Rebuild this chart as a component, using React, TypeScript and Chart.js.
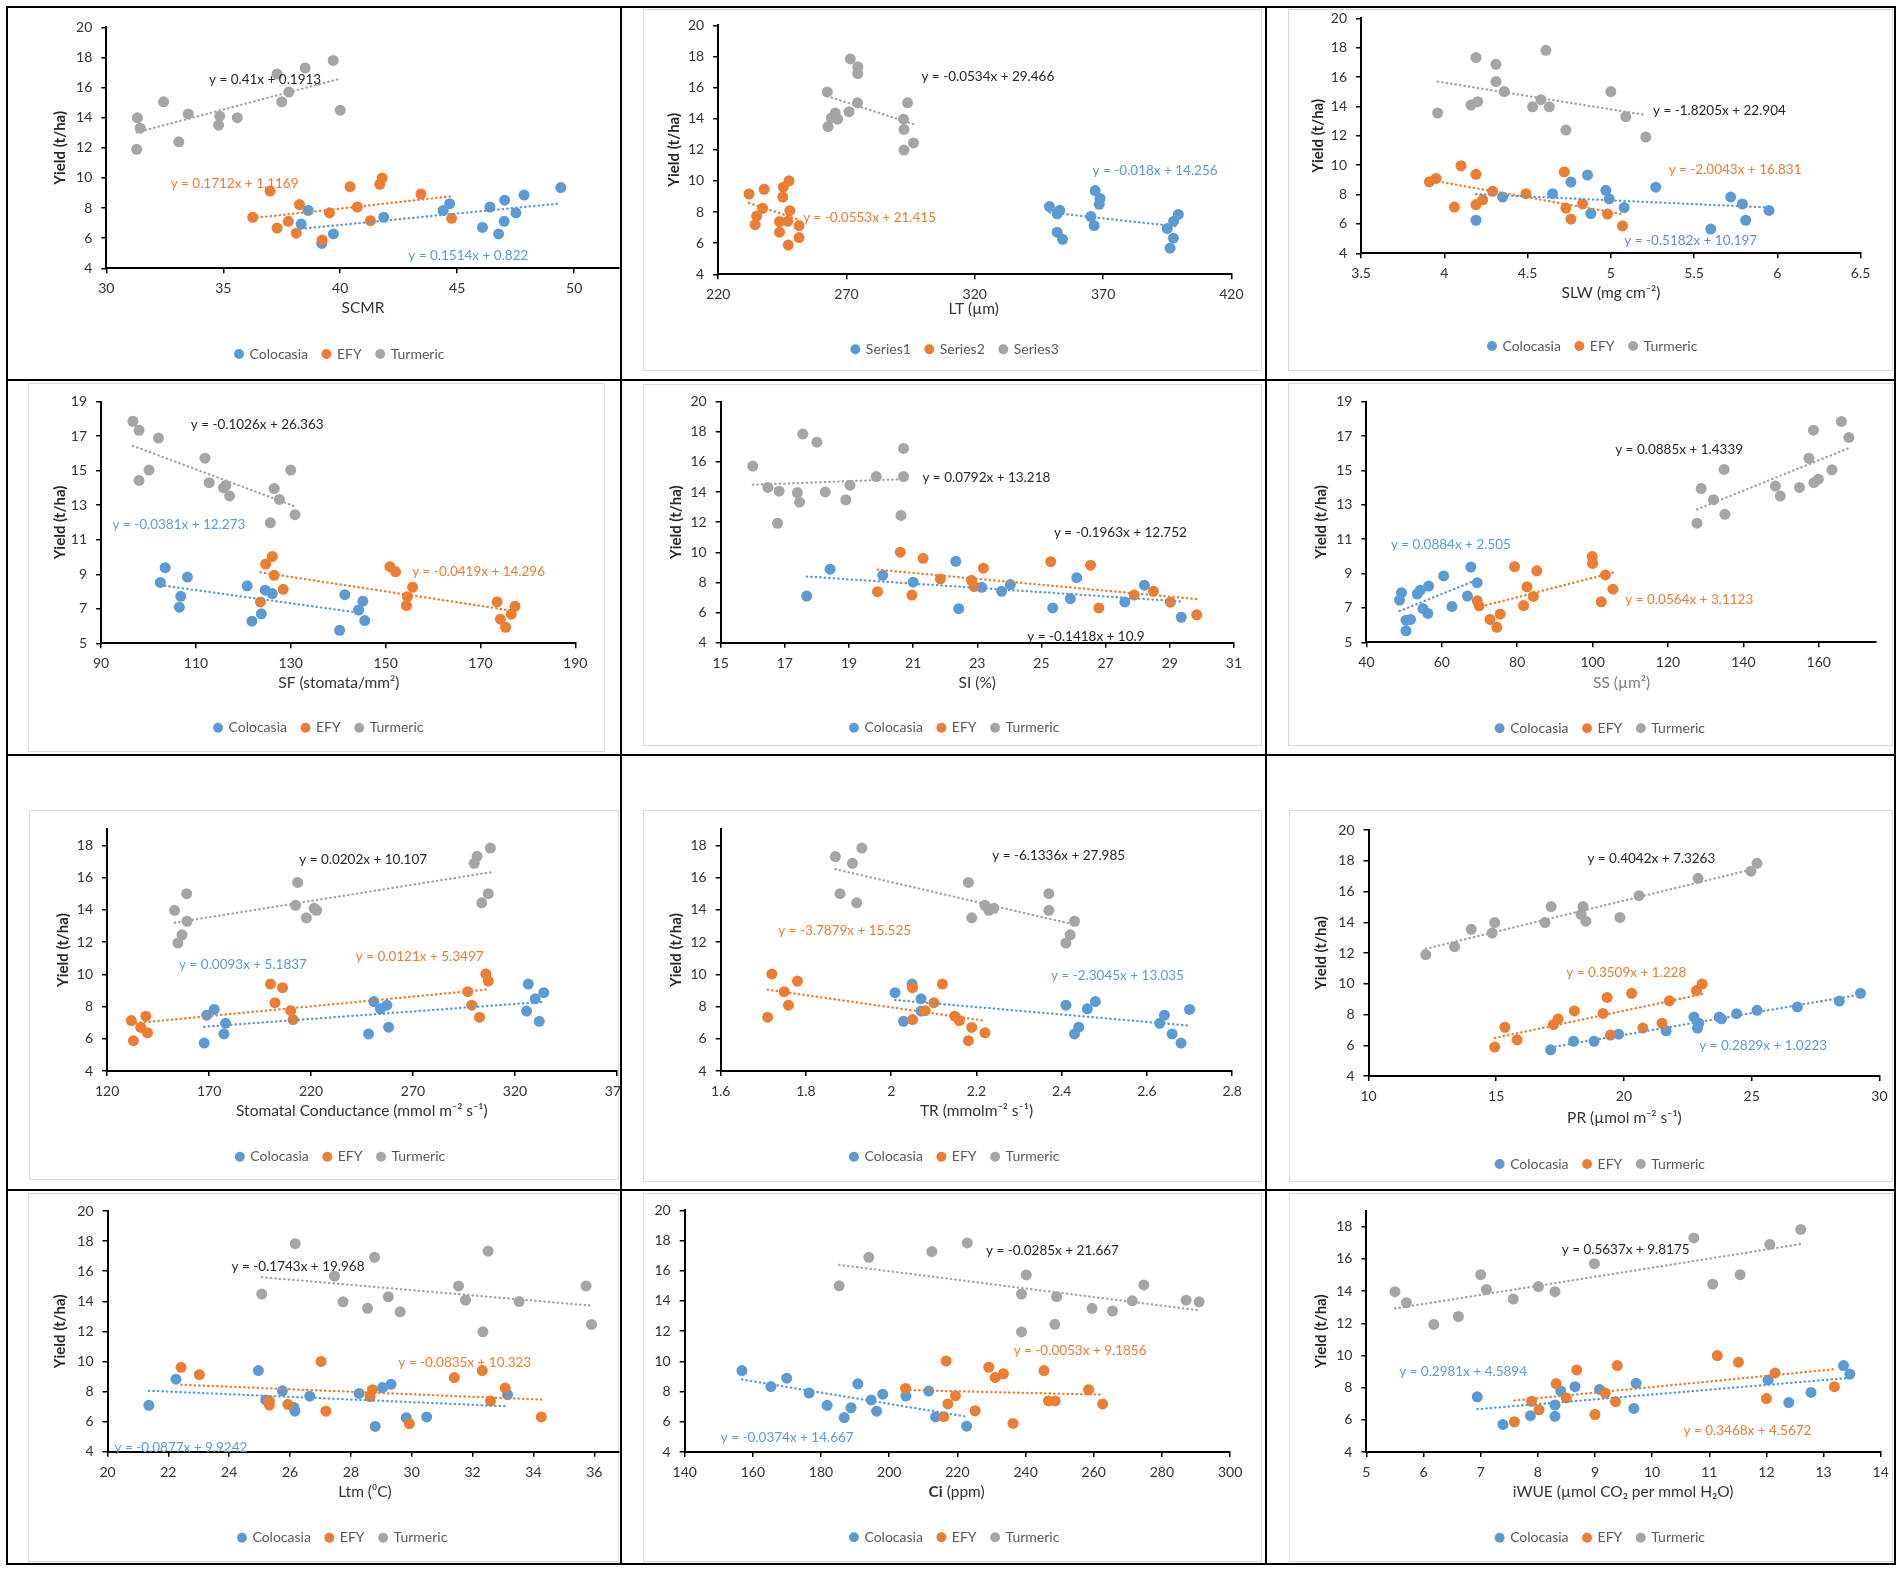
import React, { useEffect, useRef } from "react";
import { Chart, registerables } from "chart.js";
Chart.register(...registerables);

type Pt = [number, number];
const FONT = "Lato, 'DejaVu Sans', sans-serif";
const BLUE = "#5B9BD5", ORANGE = "#ED7D31", GRAY = "#A5A5A5";
const DARK = "#262626";
const COLORS = [BLUE, ORANGE, GRAY];

// ---------- names ----------
const cropNames = ["Colocasia", "EFY", "Turmeric"];
const ltNames = ["Series1", "Series2", "Series3"];

// ---------- data: [x, yield] ----------
const scmrColocasia: Pt[] = [[38.33,6.94],[38.63,7.84],[39.21,5.65],[39.71,6.28],[41.86,7.39],[44.4,7.84],[44.68,8.29],[46.08,6.71],[46.4,8.07],[46.77,6.28],[47.01,7.12],[47.03,8.52],[47.51,7.68],[47.86,8.86],[49.43,9.36]];
const scmrEfy: Pt[] = [[36.26,7.39],[37.0,9.13],[37.3,6.67],[37.78,7.12],[38.12,6.33],[38.26,8.23],[39.23,5.88],[39.54,7.68],[40.42,9.42],[40.73,8.07],[41.29,7.16],[41.69,9.58],[41.79,9.99],[43.45,8.93],[44.76,7.32]];
const scmrTurmeric: Pt[] = [[31.33,13.99],[31.45,13.3],[31.3,11.9],[32.45,15.05],[33.5,14.25],[33.1,12.4],[34.85,14.1],[34.8,13.5],[35.6,14.0],[37.3,16.9],[37.5,15.05],[37.8,15.7],[38.5,17.3],[39.7,17.8],[40.0,14.5]];

const ltColocasia: Pt[] = [[349.1,8.35],[353.1,8.11],[352.1,7.89],[352.1,6.71],[354.2,6.25],[366.9,9.38],[368.8,8.87],[368.5,8.5],[365.2,7.72],[366.5,7.13],[395.0,6.95],[397.5,7.41],[399.3,7.85],[397.4,6.32],[396.1,5.68]];
const ltEfy: Pt[] = [[232.0,9.16],[237.9,9.46],[245.4,9.6],[247.6,10.01],[245.2,8.96],[237.3,8.24],[235.0,7.74],[234.4,7.19],[243.9,7.39],[247.1,7.41],[247.9,8.09],[251.5,7.13],[243.9,6.71],[251.5,6.36],[247.3,5.88]];
const ltTurmeric: Pt[] = [[271.5,17.84],[274.4,17.33],[274.4,16.9],[262.5,15.72],[274.3,15.02],[271.0,14.45],[265.6,14.36],[264.1,14.05],[266.5,13.97],[262.8,13.49],[292.2,13.97],[292.4,13.31],[293.8,15.02],[292.4,11.98],[296.1,12.44]];

const slwColocasia: Pt[] = [[4.19,6.25],[4.35,7.83],[4.65,8.06],[4.76,8.85],[4.86,9.33],[4.88,6.71],[4.97,8.29],[4.99,7.71],[5.08,7.11],[5.27,8.5],[5.6,5.65],[5.72,7.83],[5.79,7.36],[5.81,6.25],[5.95,6.92]];
const slwEfy: Pt[] = [[3.91,8.87],[3.95,9.1],[4.1,9.96],[4.19,9.38],[4.06,7.15],[4.19,7.32],[4.23,7.64],[4.29,8.22],[4.49,8.06],[4.72,9.54],[4.73,7.08],[4.76,6.32],[4.83,7.36],[4.98,6.67],[5.07,5.86]];
const slwTurmeric: Pt[] = [[3.96,13.55],[4.19,17.33],[4.31,16.87],[4.31,15.69],[4.36,15.01],[4.16,14.09],[4.2,14.32],[4.61,17.82],[4.58,14.46],[4.53,13.97],[4.63,13.97],[4.73,12.39],[5.0,15.01],[5.09,13.3],[5.21,11.91]];

const sfColocasia: Pt[] = [[102.5,8.53],[103.5,9.38],[108.2,8.84],[106.8,7.72],[106.5,7.09],[120.8,8.33],[124.6,8.08],[126.1,7.88],[123.8,6.71],[121.8,6.28],[141.4,7.82],[145.2,7.44],[144.3,6.93],[145.6,6.32],[140.3,5.75]];
const sfEfy: Pt[] = [[126.1,10.03],[124.7,9.59],[126.5,8.94],[128.4,8.13],[123.6,7.4],[150.9,9.44],[152.1,9.14],[155.7,8.25],[154.6,7.7],[154.4,7.19],[173.5,7.4],[174.2,6.4],[175.3,5.93],[176.5,6.69],[177.3,7.15]];
const sfTurmeric: Pt[] = [[96.7,17.86],[98.0,17.34],[102.1,16.89],[98.0,14.44],[100.1,15.04],[111.9,15.73],[112.8,14.31],[115.8,14.01],[116.3,14.15],[117.1,13.54],[126.5,13.97],[127.6,13.34],[130.0,15.04],[130.9,12.45],[125.7,11.98]];

const siColocasia: Pt[] = [[17.68,7.1],[18.41,8.88],[20.05,8.47],[21.0,8.02],[22.33,9.4],[22.42,6.26],[23.14,7.68],[23.76,7.41],[24.03,7.86],[25.35,6.31],[25.9,6.92],[26.1,8.32],[27.6,6.71],[28.21,7.82],[29.36,5.69]];
const siEfy: Pt[] = [[20.6,10.01],[21.31,9.6],[19.89,7.39],[20.96,7.16],[21.85,8.23],[22.82,8.14],[22.9,7.73],[23.19,8.95],[25.29,9.38],[26.53,9.15],[26.79,6.31],[27.89,7.16],[28.49,7.41],[29.02,6.69],[29.84,5.85]];
const siTurmeric: Pt[] = [[16.0,15.73],[16.47,14.31],[16.82,14.06],[16.77,11.93],[17.56,17.85],[17.39,13.97],[17.46,13.33],[18.0,17.31],[18.26,14.01],[18.9,13.49],[19.03,14.46],[19.85,15.03],[20.7,16.9],[20.7,15.03],[20.62,12.45]];

const ssColocasia: Pt[] = [[49.3,7.89],[48.8,7.46],[53.5,7.81],[54.3,8.03],[56.5,8.27],[60.5,8.86],[67.7,9.38],[69.4,8.47],[66.8,7.69],[55.0,6.96],[56.3,6.68],[62.7,7.08],[50.5,6.29],[51.7,6.33],[50.5,5.67]];
const ssEfy: Pt[] = [[99.9,9.99],[100.0,9.59],[103.4,8.92],[105.4,8.09],[102.3,7.36],[79.3,9.4],[85.2,9.16],[82.6,8.23],[84.3,7.67],[81.7,7.14],[69.4,7.42],[69.9,7.12],[72.8,6.33],[75.5,6.64],[74.6,5.87]];
const ssTurmeric: Pt[] = [[127.7,11.93],[128.8,13.95],[132.1,13.3],[134.9,15.06],[135.1,12.45],[148.5,14.09],[149.8,13.51],[154.9,14.01],[157.4,15.71],[158.6,17.34],[158.7,14.29],[159.9,14.49],[163.5,15.04],[166.0,17.85],[168.0,16.92]];

const gsColocasia: Pt[] = [[168.8,7.46],[172.5,7.82],[178.1,6.96],[177.3,6.3],[167.6,5.73],[250.8,8.31],[254.0,7.86],[257.2,8.08],[258.0,6.72],[248.2,6.3],[326.5,9.39],[329.9,8.48],[334.1,8.86],[325.7,7.72],[331.9,7.08]];
const gsEfy: Pt[] = [[131.9,7.13],[132.9,5.88],[136.5,6.7],[139.0,7.4],[139.8,6.37],[200.1,9.39],[206.0,9.17],[202.3,8.24],[210.0,7.74],[211.2,7.19],[296.8,8.92],[298.8,8.08],[302.6,7.34],[305.7,10.02],[306.9,9.58]];
const gsTurmeric: Pt[] = [[153.1,13.97],[159.0,15.0],[159.2,13.29],[156.7,12.45],[154.7,11.94],[213.4,15.7],[212.4,14.28],[217.7,13.5],[221.5,14.09],[222.7,13.97],[300.0,16.88],[301.4,17.32],[307.9,17.83],[306.9,15.0],[303.7,14.43]];

const trColocasia: Pt[] = [[2.009,8.86],[2.049,9.39],[2.07,8.48],[2.07,7.72],[2.029,7.08],[2.41,8.08],[2.479,8.31],[2.46,7.86],[2.44,6.72],[2.43,6.3],[2.7,7.82],[2.641,7.46],[2.63,6.96],[2.659,6.3],[2.68,5.73]];
const trEfy: Pt[] = [[1.72,10.02],[1.78,9.58],[1.749,8.92],[1.759,8.08],[1.71,7.34],[2.05,9.17],[2.05,7.19],[2.1,8.24],[2.08,7.74],[2.12,9.39],[2.149,7.4],[2.16,7.13],[2.189,6.7],[2.22,6.37],[2.181,5.88]];
const trTurmeric: Pt[] = [[1.869,17.3],[1.909,16.88],[1.931,17.83],[1.88,15.0],[1.919,14.43],[2.181,15.7],[2.189,13.5],[2.22,14.28],[2.229,13.97],[2.241,14.09],[2.37,15.0],[2.37,13.97],[2.43,13.29],[2.42,12.45],[2.41,11.94]];

const prColocasia: Pt[] = [[17.13,5.7],[18.03,6.26],[18.83,6.26],[19.79,6.72],[21.65,6.94],[22.74,7.83],[22.88,7.12],[22.93,7.43],[23.73,7.83],[23.82,7.72],[24.41,8.05],[25.21,8.27],[26.79,8.49],[28.43,8.87],[29.26,9.38]];
const prEfy: Pt[] = [[14.94,5.88],[15.34,7.17],[15.82,6.35],[17.24,7.34],[17.42,7.7],[18.06,8.23],[19.18,8.07],[19.34,9.11],[19.47,6.66],[20.3,9.38],[20.74,7.12],[21.49,7.43],[21.78,8.89],[22.84,9.56],[23.06,9.98]];
const prTurmeric: Pt[] = [[12.24,11.9],[13.37,12.41],[14.02,13.54],[14.84,13.3],[14.94,13.98],[16.91,13.98],[17.15,15.02],[18.32,14.51],[18.4,15.02],[18.51,14.07],[19.84,14.31],[20.59,15.73],[22.9,16.86],[24.97,17.32],[25.21,17.83]];

const ltmColocasia: Pt[] = [[21.36,7.08],[22.25,8.82],[24.96,9.39],[25.2,7.44],[25.75,8.05],[26.13,6.94],[26.16,6.69],[26.65,7.69],[28.27,7.87],[28.8,5.68],[29.04,8.26],[29.32,8.48],[29.82,6.26],[30.49,6.31],[33.15,7.8]];
const ltmEfy: Pt[] = [[22.42,9.61],[23.02,9.12],[25.32,7.37],[25.32,7.1],[25.93,7.15],[27.02,10.0],[27.18,6.69],[28.63,7.67],[28.71,8.12],[29.92,5.86],[31.4,8.93],[32.32,9.39],[32.59,7.37],[33.07,8.23],[34.26,6.31]];
const ltmTurmeric: Pt[] = [[26.17,17.83],[25.07,14.48],[27.46,15.68],[27.74,13.96],[28.78,16.92],[28.55,13.53],[29.23,14.3],[29.62,13.3],[31.54,15.02],[31.77,14.07],[32.34,11.97],[32.51,17.33],[33.53,13.98],[35.73,15.02],[35.91,12.46]];

const ciColocasia: Pt[] = [[156.8,9.39],[165.3,8.33],[169.9,8.89],[176.5,7.9],[181.8,7.09],[186.8,6.28],[188.8,6.93],[190.8,8.51],[194.7,7.45],[196.3,6.7],[198.1,7.83],[204.9,7.7],[211.6,8.03],[213.6,6.32],[222.7,5.71]];
const ciEfy: Pt[] = [[204.8,8.21],[216.7,10.02],[216.0,6.34],[217.2,7.18],[219.4,7.72],[225.2,6.73],[229.2,9.61],[231.1,8.94],[233.5,9.18],[236.3,5.89],[245.4,9.39],[246.7,7.38],[248.7,7.38],[258.5,8.12],[262.6,7.18]];
const ciTurmeric: Pt[] = [[185.3,15.0],[194.0,16.89],[212.5,17.27],[222.9,17.84],[238.8,14.46],[238.8,11.95],[240.2,15.72],[248.6,12.45],[249.1,14.28],[259.5,13.51],[265.5,13.33],[271.3,14.01],[274.7,15.06],[287.1,14.05],[290.9,13.94]];

const wueColocasia: Pt[] = [[6.94,7.43],[7.39,5.71],[7.87,6.26],[8.3,6.22],[8.3,6.92],[8.4,7.79],[8.65,8.06],[9.08,7.89],[9.68,6.71],[9.72,8.27],[12.03,8.48],[12.39,7.07],[12.78,7.7],[13.35,9.37],[13.46,8.84]];
const wueEfy: Pt[] = [[7.59,5.88],[7.89,7.15],[8.02,6.62],[8.32,8.25],[8.5,7.36],[8.68,9.1],[9.0,6.33],[9.18,7.66],[9.36,7.13],[9.39,9.37],[11.14,9.99],[11.51,9.58],[12.0,7.32],[12.15,8.91],[13.19,8.06]];
const wueTurmeric: Pt[] = [[5.5,13.96],[5.7,13.28],[6.18,11.93],[6.61,12.42],[7.0,15.02],[7.1,14.09],[7.57,13.5],[8.01,14.28],[8.3,13.96],[8.99,15.7],[10.73,17.3],[11.06,14.43],[11.54,15.02],[12.06,16.9],[12.6,17.83]];

// ---------- trendline coefficients [slope, intercept] (Colocasia, EFY, Turmeric) ----------
const scmrTrend = [[0.1514, 0.822], [0.1712, 1.1169], [0.41, 0.1913]];
const ltTrend = [[-0.018, 14.256], [-0.0553, 21.415], [-0.0534, 29.466]];
const slwTrend = [[-0.5182, 10.197], [-2.0043, 16.831], [-1.8205, 22.904]];
const sfTrend = [[-0.0381, 12.273], [-0.0419, 14.296], [-0.1026, 26.363]];
const siTrend = [[-0.1418, 10.9], [-0.1963, 12.752], [0.0792, 13.218]];
const ssTrend = [[0.0884, 2.505], [0.0564, 3.1123], [0.0885, 1.4339]];
const gsTrend = [[0.0093, 5.1837], [0.0121, 5.3497], [0.0202, 10.107]];
const trTrend = [[-2.3045, 13.035], [-3.7879, 15.525], [-6.1336, 27.985]];
const prTrend = [[0.2829, 1.0223], [0.3509, 1.228], [0.4042, 7.3263]];
const ltmTrend = [[-0.0877, 9.9242], [-0.0835, 10.323], [-0.1743, 19.968]];
const ciTrend = [[-0.0374, 14.667], [-0.0053, 9.1856], [-0.0285, 21.667]];
const wueTrend = [[0.2981, 4.5894], [0.3468, 4.5672], [0.5637, 9.8175]];

// ---------- tick values ----------
const yTicks4to20 = [4, 6, 8, 10, 12, 14, 16, 18, 20];
const yTicks5to19 = [5, 7, 9, 11, 13, 15, 17, 19];
const yTicks4to18 = [4, 6, 8, 10, 12, 14, 16, 18];
const scmrTicks = [30, 35, 40, 45, 50];
const ltTicks = [220, 270, 320, 370, 420];
const slwTicks = [3.5, 4, 4.5, 5, 5.5, 6, 6.5];
const sfTicks = [90, 110, 130, 150, 170, 190];
const siTicks = [15, 17, 19, 21, 23, 25, 27, 29, 31];
const ssTicks = [40, 60, 80, 100, 120, 140, 160];
const gsTicks = [120, 170, 220, 270, 320, 370];
const trTicks = [1.6, 1.8, 2, 2.2, 2.4, 2.6, 2.8];
const prTicks = [10, 15, 20, 25, 30];
const ltmTicks = [20, 22, 24, 26, 28, 30, 32, 34, 36];
const ciTicks = [140, 160, 180, 200, 220, 240, 260, 280, 300];
const wueTicks = [5, 6, 7, 8, 9, 10, 11, 12, 13, 14];

// ---------- layout / annotation config (page px; label anchors in data units) ----------
type Seg = { t: string; b?: boolean };
interface PanelCfg {
  series: Pt[][]; names: string[]; trends: number[][];
  xMin: number; xMax: number; xTicks: number[];
  yMin: number; yMax: number; yTicks: number[];
  xTitle: Seg[]; xTitleColor?: string; yTitle: string | null;
  labelPos: Pt[]; labelColors: string[];
  cell: number[]; plot: number[]; yTitleX: number; xTitleAt: number[]; legendAt: number[]; box?: number[];
}
const BT = "#5B9BD5", OT = "#ED7D31";
const COLS = [[8, 620], [622, 1265], [1267, 1894]];
const ROWS = [[8, 379], [381, 754], [756, 1189], [1191, 1563]];
const cell = (c: number, r: number) => [COLS[c][0], ROWS[r][0], COLS[c][1], ROWS[r][1]];
const YT = "Yield (t/ha)";

const panels: PanelCfg[] = [
  { series: [scmrColocasia, scmrEfy, scmrTurmeric], names: cropNames, trends: scmrTrend,
    xMin: 30, xMax: 51.9, xTicks: scmrTicks, yMin: 4, yMax: 20, yTicks: yTicks4to20,
    xTitle: [{ t: "SCMR" }], yTitle: YT, labelPos: [[42.91, 4.86], [32.75, 9.65], [34.39, 16.5]], labelColors: [BT, OT, DARK],
    cell: cell(0, 0), plot: [106.3, 27.3, 618.6, 263.3], yTitleX: 60.6, xTitleAt: [363, 308.3], legendAt: [340, 354] },
  { series: [ltColocasia, ltEfy, ltTurmeric], names: ltNames, trends: ltTrend,
    xMin: 220, xMax: 420, xTicks: ltTicks, yMin: 4, yMax: 20, yTicks: yTicks4to20,
    xTitle: [{ t: "LT (µm)" }], yTitle: YT, labelPos: [[365.9, 10.67], [253.1, 7.63], [299.2, 16.68]], labelColors: [BT, OT, DARK],
    cell: cell(1, 0), plot: [718.2, 25.3, 1231.4, 269.3], yTitleX: 673.9, xTitleAt: [973.6, 309.3], legendAt: [955.3, 349.3], box: [643, 9, 1262, 371] },
  { series: [slwColocasia, slwEfy, slwTurmeric], names: cropNames, trends: slwTrend,
    xMin: 3.5, xMax: 6.5, xTicks: slwTicks, yMin: 4, yMax: 20, yTicks: yTicks4to20,
    xTitle: [{ t: "SLW (mg cm⁻²)" }], yTitle: YT, labelPos: [[5.081, 4.86], [5.347, 9.68], [5.253, 13.72]], labelColors: ["#6B86D6", OT, DARK],
    cell: cell(2, 0), plot: [1361.1, 18.3, 1860.6, 248.3], yTitleX: 1318.1, xTitleAt: [1610.9, 293.3], legendAt: [1592.9, 346], box: [1288, 9, 1893, 371] },
  { series: [sfColocasia, sfEfy, sfTurmeric], names: cropNames, trends: sfTrend,
    xMin: 90, xMax: 190, xTicks: sfTicks, yMin: 5, yMax: 19, yTicks: yTicks5to19,
    xTitle: [{ t: "SF (stomata/mm²)" }], yTitle: YT, labelPos: [[92.4, 11.9], [155.6, 9.18], [108.9, 17.68]], labelColors: [BT, OT, DARK],
    cell: cell(0, 1), plot: [101.1, 401.7, 575.3, 638.3], yTitleX: 59.8, xTitleAt: [338.8, 683.3], legendAt: [319, 727.7], box: [28, 383, 604.5, 752] },
  { series: [siColocasia, siEfy, siTurmeric], names: cropNames, trends: siTrend,
    xMin: 15, xMax: 31, xTicks: siTicks, yMin: 4, yMax: 20, yTicks: yTicks4to20,
    xTitle: [{ t: "SI (%)" }], yTitle: YT, labelPos: [[24.56, 4.41], [25.39, 11.34], [21.29, 14.98]], labelColors: [DARK, DARK, DARK],
    cell: cell(1, 1), plot: [720.7, 401.7, 1233.9, 637.7], yTitleX: 676, xTitleAt: [977.3, 683.3], legendAt: [954.9, 727.7], box: [643, 384, 1262, 746] },
  { series: [ssColocasia, ssEfy, ssTurmeric], names: cropNames, trends: ssTrend,
    xMin: 40, xMax: 175, xTicks: ssTicks, yMin: 5, yMax: 19, yTicks: yTicks5to19,
    xTitle: [{ t: "SS (µm²)" }], xTitleColor: "#7F7F7F", yTitle: YT, labelPos: [[46.5, 10.66], [108.7, 7.51], [106.0, 16.23]], labelColors: [BT, OT, DARK],
    cell: cell(2, 1), plot: [1366.4, 401.7, 1875.3, 637.3], yTitleX: 1321.4, xTitleAt: [1621.5, 683.3], legendAt: [1600.6, 728.3], box: [1288, 383, 1893, 746] },
  { series: [gsColocasia, gsEfy, gsTurmeric], names: cropNames, trends: gsTrend,
    xMin: 120, xMax: 370, xTicks: gsTicks, yMin: 4, yMax: 19, yTicks: yTicks4to18,
    xTitle: [{ t: "Stomatal Conductance (mmol m⁻² s⁻¹)" }], yTitle: YT, labelPos: [[155.3, 10.61], [241.9, 11.1], [214.2, 17.11]], labelColors: [BT, OT, DARK],
    cell: cell(0, 2), plot: [107.1, 829.2, 617, 1066], yTitleX: 62.7, xTitleAt: [361.8, 1111], legendAt: [340.8, 1156.7], box: [29, 810, 619, 1180] },
  { series: [trColocasia, trEfy, trTurmeric], names: cropNames, trends: trTrend,
    xMin: 1.6, xMax: 2.8, xTicks: trTicks, yMin: 4, yMax: 19, yTicks: yTicks4to18,
    xTitle: [{ t: "TR (mmolm⁻² s⁻¹)" }], yTitle: YT, labelPos: [[2.375, 9.93], [1.735, 12.72], [2.237, 17.37]], labelColors: [BT, OT, DARK],
    cell: cell(1, 2), plot: [720.7, 829.2, 1232.2, 1066], yTitleX: 676, xTitleAt: [976.5, 1111], legendAt: [954.9, 1156.7], box: [643, 810, 1262, 1182] },
  { series: [prColocasia, prEfy, prTurmeric], names: cropNames, trends: prTrend,
    xMin: 10, xMax: 30, xTicks: prTicks, yMin: 4, yMax: 20, yTicks: yTicks4to20,
    xTitle: [{ t: "PR (µmol m⁻² s⁻¹)" }], yTitle: YT, labelPos: [[22.95, 5.95], [17.74, 10.71], [18.57, 18.16]], labelColors: [BT, OT, DARK],
    cell: cell(2, 2), plot: [1368.5, 830, 1879.4, 1071], yTitleX: 1321.4, xTitleAt: [1624.4, 1117.7], legendAt: [1600.6, 1164], box: [1289, 810, 1893, 1182] },
  { series: [ltmColocasia, ltmEfy, ltmTurmeric], names: cropNames, trends: ltmTrend,
    xMin: 20, xMax: 36.8, xTicks: ltmTicks, yMin: 4, yMax: 20, yTicks: yTicks4to20,
    xTitle: [{ t: "Ltm (⁰C)" }], yTitle: YT, labelPos: [[20.23, 4.27], [29.56, 9.93], [24.08, 16.33]], labelColors: [BT, OT, DARK],
    cell: cell(0, 3), plot: [107.5, 1211, 618.6, 1446.7], yTitleX: 60.6, xTitleAt: [365, 1492.3], legendAt: [342.9, 1537.7], box: [28, 1193, 619, 1562] },
  { series: [ciColocasia, ciEfy, ciTurmeric], names: cropNames, trends: ciTrend,
    xMin: 140, xMax: 300, xTicks: ciTicks, yMin: 4, yMax: 20, yTicks: yTicks4to20,
    xTitle: [{ t: "Ci", b: true }, { t: " (ppm)" }], yTitle: null, labelPos: [[150.6, 4.97], [236.5, 10.74], [228.4, 17.32]], labelColors: [BT, OT, DARK],
    cell: cell(1, 3), plot: [684.7, 1210.3, 1230.1, 1447], yTitleX: 0, xTitleAt: [956.6, 1492.3], legendAt: [954.9, 1537.3], box: [643, 1193, 1262, 1562] },
  { series: [wueColocasia, wueEfy, wueTurmeric], names: cropNames, trends: wueTrend,
    xMin: 5, xMax: 14, xTicks: wueTicks, yMin: 4, yMax: 19, yTicks: yTicks4to18,
    xTitle: [{ t: "iWUE (µmol CO₂ per mmol H₂O)" }], yTitle: YT, labelPos: [[5.573, 8.99], [10.55, 5.35], [8.418, 16.56]], labelColors: [BT, OT, DARK],
    cell: cell(2, 3), plot: [1366.4, 1210.6, 1880.7, 1447], yTitleX: 1321.4, xTitleAt: [1623.1, 1492.3], legendAt: [1600.6, 1537.7], box: [1289, 1193, 1893, 1562] },
];

const fmt = (v: any) => String(Math.round(Number(v) * 1000) / 1000);
const eqText = (t: number[]) => `y = ${t[0]}x + ${t[1]}`;

function Panel({ cfg }: { cfg: PanelCfg }) {
  const ref = useRef<HTMLCanvasElement>(null);
  const E = 20;
  const [cl, ct, cr, cb] = cfg.cell;
  const CL = cl - E, CT = ct - E, CW = cr - cl + 2 * E, CH = cb - ct + 2 * E;

  useEffect(() => {
    if (!ref.current) return;
    const [pl, pt, pr, pb] = cfg.plot;
    const padLeft = 10;
    const yW = pl - CL - padLeft;
    const padTop = pt - CT;
    const padRight = CL + CW - pr;
    const LP = 15, LF = 14;
    const legendH = 2 * LP + LF;
    const xH = 30;
    const padBottom = CT + CH - pb - legendH - xH;

    const datasets: any[] = [];
    cfg.series.forEach((pts, i) => {
      datasets.push({
        label: cfg.names[i],
        data: pts.map(([x, y]) => ({ x, y })),
        backgroundColor: COLORS[i], borderColor: COLORS[i],
        pointRadius: 5.5, pointHoverRadius: 5.5, pointBorderWidth: 0,
        order: 3 - i,
      });
    });
    cfg.series.forEach((pts, i) => {
      const xs = pts.map((p) => p[0]);
      const x0 = Math.min(...xs), x1 = Math.max(...xs);
      const [m, b] = cfg.trends[i];
      datasets.push({
        label: "trend",
        data: [{ x: x0, y: m * x0 + b }, { x: x1, y: m * x1 + b }],
        showLine: true, borderColor: COLORS[i], backgroundColor: COLORS[i],
        borderWidth: 2.25, borderDash: [0.5, 4], borderCapStyle: "round",
        pointRadius: 0, pointHoverRadius: 0, fill: false, order: -1,
      });
    });

    const axisCommon = {
      type: "linear" as const,
      grid: { display: true, drawOnChartArea: false, drawTicks: true, tickLength: 5, color: "#000", lineWidth: 1.5 },
      border: { display: true, color: "#000", width: 2 },
    };

    const annot = {
      id: "annot",
      afterLayout(chart: any) {
        const lg = chart.legend;
        if (!lg) return;
        const w = lg.right - lg.left, h = lg.bottom - lg.top;
        const cx = cfg.legendAt[0] - CL, cy = cfg.legendAt[1] - CT;
        lg.left = cx - w / 2; lg.right = cx + w / 2;
        lg.top = cy - LP - LF / 2; lg.bottom = lg.top + h;
      },
      afterDraw(chart: any) {
        const ctx = chart.ctx as CanvasRenderingContext2D;
        const xs = chart.scales.x, ys = chart.scales.y;
        ctx.save();
        ctx.font = `13.5px ${FONT}`;
        ctx.textAlign = "left";
        ctx.textBaseline = "middle";
        cfg.labelPos.forEach((p, i) => {
          ctx.fillStyle = cfg.labelColors[i];
          ctx.fillText(eqText(cfg.trends[i]), xs.getPixelForValue(p[0]), ys.getPixelForValue(p[1]));
        });
        // x title
        const size = 15.5;
        const fonts = cfg.xTitle.map((s) => `${s.b ? "bold " : ""}${size}px ${FONT}`);
        let total = 0;
        cfg.xTitle.forEach((s, i) => { ctx.font = fonts[i]; total += ctx.measureText(s.t).width; });
        let x = cfg.xTitleAt[0] - CL - total / 2;
        const y = cfg.xTitleAt[1] - CT;
        ctx.fillStyle = cfg.xTitleColor || "#333333";
        cfg.xTitle.forEach((s, i) => { ctx.font = fonts[i]; ctx.fillText(s.t, x, y); x += ctx.measureText(s.t).width; });
        // y title
        if (cfg.yTitle) {
          const ca = chart.chartArea;
          ctx.translate(cfg.yTitleX - CL, (ca.top + ca.bottom) / 2);
          ctx.rotate(-Math.PI / 2);
          ctx.font = `bold 15px ${FONT}`;
          ctx.textAlign = "center";
          ctx.fillStyle = DARK;
          ctx.fillText(cfg.yTitle, 0, 0);
        }
        ctx.restore();
      },
    };

    const chart = new Chart(ref.current, {
      type: "scatter",
      data: { datasets },
      options: {
        animation: false,
        responsive: false,
        events: [],
        layout: { padding: { left: padLeft, top: padTop, right: padRight, bottom: padBottom } },
        scales: {
          x: {
            ...axisCommon, min: cfg.xMin, max: cfg.xMax,
            afterBuildTicks: (s: any) => { s.ticks = cfg.xTicks.map((v) => ({ value: v })); },
            afterFit: (s: any) => { s.height = xH; },
            ticks: { padding: 7, color: "#333333", font: { family: FONT, size: 14 }, callback: fmt, maxRotation: 0, autoSkip: false },
          },
          y: {
            ...axisCommon, min: cfg.yMin, max: cfg.yMax,
            afterBuildTicks: (s: any) => { s.ticks = cfg.yTicks.map((v) => ({ value: v })); },
            afterFit: (s: any) => { s.width = yW; },
            ticks: { padding: 9, color: "#333333", font: { family: FONT, size: 14 }, callback: fmt, autoSkip: false },
          },
        },
        plugins: {
          legend: {
            position: "bottom",
            labels: {
              usePointStyle: true, pointStyle: "circle", boxWidth: 7, boxHeight: 7, padding: LP,
              color: "#595959", font: { family: FONT, size: LF },
              filter: (item: any) => item.text !== "trend",
              sort: (a: any, b: any) => a.datasetIndex - b.datasetIndex,
            },
          },
          tooltip: { enabled: false },
        },
      } as any,
      plugins: [annot],
    });
    return () => chart.destroy();
  }, []);

  const box = cfg.box;
  return (
    <div style={{ position: "absolute", left: cl, top: ct, width: cr - cl, height: cb - ct, overflow: "hidden", background: "#fff" }}>
      {box && (
        <div style={{ position: "absolute", left: box[0] - cl, top: box[1] - ct, width: box[2] - box[0], height: box[3] - box[1], border: "1px solid #D9D9D9", boxSizing: "border-box" }} />
      )}
      <canvas ref={ref} width={CW} height={CH} style={{ position: "absolute", left: -E, top: -E, width: CW, height: CH }} />
    </div>
  );
}

const VLINES = [6, 620, 1265, 1894];
const HLINES = [6, 379, 754, 1189, 1563];

export default function App() {
  return (
    <div>
      {panels.map((p, i) => <Panel key={i} cfg={p} />)}
      {VLINES.map((x, i) => (
        <div key={"v" + i} style={{ position: "absolute", left: x, top: 6, width: 2, height: 1559, background: "#000", zIndex: 5 }} />
      ))}
      {HLINES.map((y, i) => (
        <div key={"h" + i} style={{ position: "absolute", left: 6, top: y, width: 1890, height: 2, background: "#000", zIndex: 5 }} />
      ))}
    </div>
  );
}
